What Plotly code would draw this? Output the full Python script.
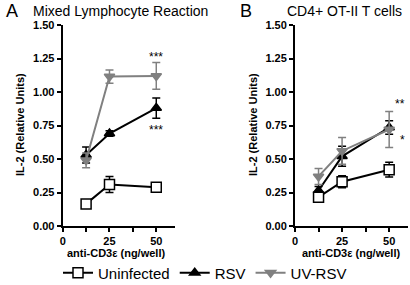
import plotly.graph_objects as go

x_dose = [12.5, 25, 50]

uninf_a = [0.165, 0.31, 0.29]
uninf_a_err = [0.02, 0.06, 0.03]
rsv_a = [0.53, 0.69, 0.88]
rsv_a_err = [0.06, 0.02, 0.075]
uv_a = [0.49, 1.115, 1.12]
uv_a_err = [0.055, 0.05, 0.10]

uninf_b = [0.215, 0.33, 0.42]
uninf_b_err = [0.02, 0.045, 0.055]
rsv_b = [0.265, 0.52, 0.735]
rsv_b_err = [0.03, 0.075, 0.05]
uv_b = [0.37, 0.56, 0.72]
uv_b_err = [0.06, 0.10, 0.135]

y_ticks = [0, 0.25, 0.5, 0.75, 1.0, 1.25, 1.5]
y_labels = ["0.00", "0.25", "0.50", "0.75", "1.00", "1.25", "1.50"]
x_ticks = [0, 12.5, 25, 37.5, 50]
x_labels = ["0", "", "25", "", "50"]

GREY = "#808080"
BLACK = "#000000"
FONT = "Liberation Sans, Arial, sans-serif"

fig = go.Figure()

def add_series(x, y, err, name, color, symbol, fill, size, xa, ya, show, rank):
    fig.add_trace(go.Scatter(
        x=x, y=y, mode="lines+markers", name=name,
        xaxis=xa, yaxis=ya, showlegend=show, legendrank=rank,
        line=dict(color=color, width=2),
        marker=dict(symbol=symbol, size=size,
                    color=fill, line=dict(color=color, width=1.5)),
        error_y=dict(type="data", array=err, visible=True, color=color,
                     thickness=1.5, width=4),
    ))

for xa, ya, unf, unfe, rsv, rsve, uv, uve, show in [
    ("x", "y", uninf_a, uninf_a_err, rsv_a, rsv_a_err, uv_a, uv_a_err, True),
    ("x2", "y2", uninf_b, uninf_b_err, rsv_b, rsv_b_err, uv_b, uv_b_err, False),
]:
    add_series(x_dose, rsv, rsve, "RSV", BLACK, "triangle-up", BLACK, 9, xa, ya, show, 2)
    add_series(x_dose, uv, uve, "UV-RSV", GREY, "triangle-down", GREY, 9, xa, ya, show, 3)
    add_series(x_dose, unf, unfe, "Uninfected", BLACK, "square", "white", 10, xa, ya, show, 1)

axis_common = dict(showline=True, linecolor="black", linewidth=2, ticks="outside",
                   ticklen=4, tickwidth=2, tickcolor="black", showgrid=False,
                   zeroline=False, automargin=False,
                   tickfont=dict(family=FONT, size=11, color="black"))

ydom = [(285 - 226) / 285, (285 - 25) / 285]
fig.update_layout(
    width=410, height=285, margin=dict(l=0, r=0, t=0, b=0, autoexpand=False),
    plot_bgcolor="white", paper_bgcolor="white",
    font=dict(family=FONT, color="black"),
    xaxis=dict(domain=[62.7 / 410, 175 / 410], range=[0, 60], tickvals=x_ticks,
               ticktext=["<b>%s</b>" % t for t in x_labels], anchor="y", **axis_common),
    yaxis=dict(domain=ydom, range=[0, 1.5], tickvals=y_ticks,
               ticktext=["<b>%s</b>" % t for t in y_labels], anchor="x", **axis_common),
    xaxis2=dict(domain=[295 / 410, 408 / 410], range=[0, 60], tickvals=x_ticks,
                ticktext=["<b>%s</b>" % t for t in x_labels], anchor="y2", **axis_common),
    yaxis2=dict(domain=ydom, range=[0, 1.5], tickvals=y_ticks,
                ticktext=["<b>%s</b>" % t for t in y_labels], anchor="x2", **axis_common),
    legend=dict(orientation="h", x=205 / 410, xanchor="center", y=1 - 273 / 285,
                yanchor="middle",
                font=dict(family=FONT, size=15, color="black"),
                itemwidth=30, tracegroupgap=0, bgcolor="rgba(0,0,0,0)"),
    showlegend=True,
)

ann = []
def text(x, y, t, size, xanchor="center", angle=0, xref="paper", yref="paper"):
    ann.append(dict(x=x, y=y, xref=xref, yref=yref, text=t, showarrow=False,
                    xanchor=xanchor, yanchor="middle", textangle=angle,
                    font=dict(family=FONT, size=size, color="black")))

text(4 / 410, 1 - 11 / 285, "A", 18, "left")
text(31 / 410, 1 - 11 / 285, "Mixed Lymphocyte Reaction", 14, "left")
text(238 / 410, 1 - 11 / 285, "B", 18, "left")
text(285 / 410, 1 - 11 / 285, "CD4+ OT-II T cells", 14, "left")
text(20 / 410, 1 - 125 / 285, "<b>IL-2 (Relative Units)</b>", 11, angle=-90)
text(253 / 410, 1 - 125 / 285, "<b>IL-2 (Relative Units)</b>", 11, angle=-90)
text(116 / 410, 1 - 253 / 285, "<b>anti-CD3ε (ng/well)</b>", 11)
text(351 / 410, 1 - 253 / 285, "<b>anti-CD3ε (ng/well)</b>", 11)
# significance markers
text(50, 1.26, "***", 12, xref="x", yref="y")
text(50, 0.72, "***", 12, xref="x", yref="y")
text(55.5, 0.91, "**", 12, xref="x2", yref="y2")
text(57, 0.64, "*", 12, xref="x2", yref="y2")
fig.update_layout(annotations=ann)

fig.write_html("out.html", config={"displayModeBar": False},
               post_script="document.body.style.margin='0';document.body.style.overflow='hidden';")
